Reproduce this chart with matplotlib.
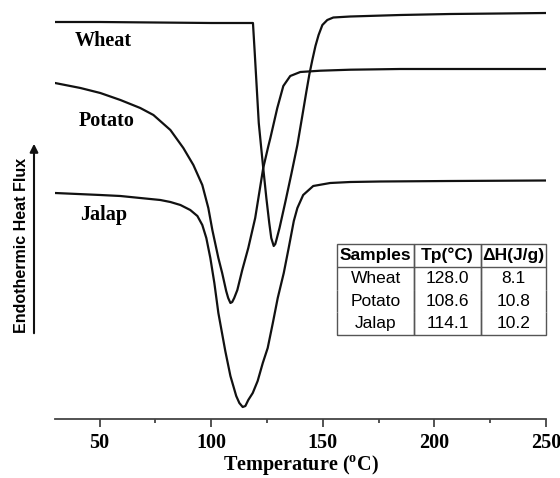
import matplotlib
matplotlib.use("Agg")
import matplotlib.pyplot as plt

# ── data (heat flux in arbitrary units) ──────────────────────────────────────
wheat_T = [30.0, 50.0, 75.0, 100.0, 115.0, 118.7, 119.5, 120.4, 121.3, 122.4,
           123.3, 124.7, 126.0, 126.9, 128.0, 128.7, 129.2, 130.6, 131.9, 133.2,
           135.9, 138.6, 140.8, 142.6, 144.0, 145.3, 146.7, 148.1, 149.8, 152.0,
           154.7, 162.3, 184.7, 207.1, 229.5, 250.0]
wheat_H = [39.7, 39.7, 39.65, 39.6, 39.6, 39.6, 36.6, 33.1, 29.6, 27.1,
           25.1, 22.1, 19.6, 18.1, 17.3, 17.5, 17.9, 19.1, 20.4, 21.7,
           24.5, 27.4, 30.3, 32.7, 34.5, 35.9, 37.3, 38.4, 39.4, 39.9,
           40.15, 40.25, 40.4, 40.5, 40.55, 40.6]

potato_T = [30.0, 41.4, 50.3, 59.3, 68.2, 74.1, 81.7, 87.5, 92.0, 96.0,
            98.7, 100.5, 103.2, 104.9, 106.7, 107.6, 108.6, 109.4, 110.3, 111.7,
            113.9, 116.6, 119.7, 123.3, 125.6, 126.5, 129.6, 132.3, 135.4, 139.9,
            148.9, 162.3, 184.7, 250.0]
potato_H = [33.6, 33.1, 32.6, 31.9, 31.1, 30.4, 28.9, 27.1, 25.4, 23.4,
            21.1, 18.9, 16.1, 14.6, 12.8, 12.1, 11.6, 11.7, 12.1, 12.9,
            14.9, 17.1, 20.1, 25.1, 27.3, 28.1, 31.1, 33.3, 34.3, 34.7,
            34.83, 34.93, 35.0, 35.0]

jalap_T = [30.0, 50.3, 59.3, 68.2, 77.2, 81.7, 86.2, 90.6, 93.8, 96.0,
           97.8, 99.6, 101.4, 103.2, 106.3, 108.6, 111.2, 112.6, 114.1, 115.3,
           116.6, 118.6, 120.8, 123.1, 125.3, 127.6, 129.8, 132.5, 134.7, 137.0,
           138.6, 141.2, 145.7, 153.3, 162.3, 175.8, 207.1, 250.0]
jalap_H = [22.6, 22.4, 22.3, 22.1, 21.9, 21.7, 21.4, 20.9, 20.3, 19.4,
           18.1, 16.1, 13.6, 10.6, 6.8, 4.3, 2.3, 1.6, 1.2, 1.3,
           1.9, 2.6, 3.8, 5.6, 7.1, 9.6, 12.1, 14.6, 17.1, 19.8,
           21.1, 22.4, 23.3, 23.6, 23.7, 23.75, 23.8, 23.85]

samples = ["Wheat", "Potato", "Jalap"]
tp = ["128.0", "108.6", "114.1"]
dh = ["8.1", "10.8", "10.2"]
headers = ["Samples", "Tp(°C)", "ΔH(J/g)"]

# ── styling ──────────────────────────────────────────────────────────────────
plt.rcParams.update({
    "font.family": "Liberation Serif",
    "font.weight": "bold",
    "mathtext.fontset": "custom",
    "mathtext.rm": "Liberation Serif:bold",
    "mathtext.bf": "Liberation Serif:bold",
})
INK = "#111111"

fig = plt.figure(figsize=(5.6, 4.78), dpi=100)
ax = fig.add_axes([55 / 560, 59 / 478, 491 / 560, 419 / 478])

for T, H in [(wheat_T, wheat_H), (potato_T, potato_H), (jalap_T, jalap_H)]:
    ax.plot(T, H, color=INK, lw=1.6, solid_joinstyle="round")

ax.set_xlim(30, 250)
ax.set_ylim(0, 41.9)
for s in ["top", "right", "left"]:
    ax.spines[s].set_visible(False)
ax.spines["bottom"].set_color("#444")
ax.spines["bottom"].set_linewidth(1.3)
ax.set_yticks([])
ax.set_xticks([50, 100, 150, 200, 250])
ax.set_xticks([75, 125, 175, 225], minor=True)
ax.tick_params(axis="x", which="major", length=6, width=1.3, color="#444",
               labelsize=14.5, pad=4)
ax.tick_params(axis="x", which="minor", length=3, width=1.3, color="#444")
ax.set_xlabel(r"Temperature ($^{\mathbf{o}}$C)", fontsize=14.5, fontweight="bold",
              labelpad=0)

# curve names
for name, (x, y) in zip(samples, [(51.7, 37.8), (53.0, 29.8), (51.9, 20.4)]):
    ax.text(x, y, name, fontsize=14.5, fontweight="bold", ha="center", va="center")

# y label + arrow
fig.text(22 / 560, 1 - 245 / 478, "Endothermic Heat Flux", rotation=90,
         ha="center", va="center", family="Liberation Sans", fontsize=11.5,
         fontweight="bold")
fig.patches.append(matplotlib.patches.FancyArrowPatch(
    (34 / 560, 1 - 336 / 478), (34 / 560, 1 - 141 / 478),
    transform=fig.transFigure, arrowstyle="-|>", mutation_scale=12,
    lw=1.5, color=INK))

# table
rows = [[s, t, d] for s, t, d in zip(samples, tp, dh)]
tab = ax.table(cellText=rows, colLabels=headers, cellLoc="center",
               bbox=[0.5746, 0.2, 0.4254, 0.217],
               colWidths=[77, 67, 65])
tab.auto_set_font_size(False)
for (r, c), cell in tab.get_celld().items():
    cell.set_edgecolor("#555")
    cell.set_linewidth(1.0)
    cell.set_facecolor("none")
    txt = cell.get_text()
    txt.set_fontfamily("Liberation Sans")
    txt.set_fontsize(12.5)
    if r == 0:
        txt.set_fontweight("bold")
        cell.visible_edges = "closed"
    else:
        txt.set_fontweight("normal")
        cell.visible_edges = "LRB" if r == len(rows) else "LR"

fig.savefig("out.png", dpi=100)
